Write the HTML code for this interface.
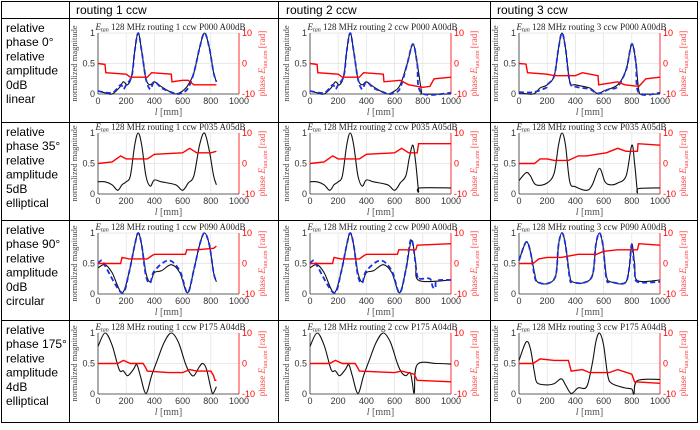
<!DOCTYPE html>
<html><head><meta charset="utf-8"><style>
html,body{margin:0;padding:0;background:#fff;}
svg{display:block;}
.hd{font-family:"Liberation Sans",sans-serif;font-size:12px;fill:#000;}
.tk{font-family:"Liberation Sans",sans-serif;font-size:9px;}
.sf{font-family:"Liberation Serif",serif;}
</style></head><body>
<svg id="root" width="700" height="430" viewBox="0 0 700 430" xmlns="http://www.w3.org/2000/svg">
<g stroke="#000" stroke-width="1" fill="none">
<rect x="1.5" y="1.5" width="696" height="421"/>
<line x1="69.5" y1="1.5" x2="69.5" y2="422.5"/>
<line x1="278.5" y1="1.5" x2="278.5" y2="422.5"/>
<line x1="490.5" y1="1.5" x2="490.5" y2="422.5"/>
<line x1="1.5" y1="18.5" x2="697.5" y2="18.5"/>
<line x1="1.5" y1="122.5" x2="697.5" y2="122.5"/>
<line x1="1.5" y1="220.5" x2="697.5" y2="220.5"/>
<line x1="1.5" y1="320.5" x2="697.5" y2="320.5"/>
</g>
<text class="hd" x="76" y="14" font-size="13">routing 1 ccw</text>
<text class="hd" x="286" y="14" font-size="13">routing 2 ccw</text>
<text class="hd" x="497" y="14" font-size="13">routing 3 ccw</text>
<g id="rowlabels"></g>
<g id="charts"></g>
</svg>
<script>
// ---- data ----
const rowLabels=[["relative","phase 0°","relative","amplitude","0dB","linear"],["relative","phase 35°","relative","amplitude","5dB","elliptical"],["relative","phase 90°","relative","amplitude","0dB","circular"],["relative","phase 175°","relative","amplitude","4dB","elliptical"]];
const titles=["routing 1 ccw P000 A00dB","routing 2 ccw P000 A00dB","routing 3 ccw P000 A00dB","routing 1 ccw P035 A05dB","routing 2 ccw P035 A05dB","routing 3 ccw P035 A05dB","routing 1 ccw P090 A00dB","routing 2 ccw P090 A00dB","routing 3 ccw P090 A00dB","routing 1 ccw P175 A04dB","routing 2 ccw P175 A04dB","routing 3 ccw P175 A04dB"];
const xTicks=[0,200,400,600,800,1000];
const yTicks=[0,0.5,1];
const yTickLabels=["0","0.5","1"];
const pTicks=[-10,0,10];
const pTickLabels=["-10","0","10"];
// magnitude (black) series: [l, value] pairs
const mag=[
[[0,.05],[50,.02],[100,0],[150,.1],[180,.2],[210,.15],[240,.3],[260,.7],[285,1],[310,.7],[340,.25],[370,.15],[400,.2],[450,.12],[500,.05],[550,0],[600,.05],[640,.15],[680,.35],[720,.75],[755,1],[790,.75],[820,.35],[840,.2]],
[[0,.05],[50,.02],[100,0],[150,.1],[180,.2],[210,.15],[240,.3],[260,.7],[285,1],[310,.7],[340,.25],[370,.15],[400,.2],[450,.12],[500,.05],[550,0],[600,.05],[640,.15],[690,.5],[730,.82],[760,.5],[790,.05],[800,0],[1000,0]],
[[0,.02],[100,0],[150,.1],[200,.15],[250,.3],[280,.75],[305,1],[330,.75],[360,.2],[400,.15],[500,.1],[560,0],[600,.05],[700,.15],[760,.4],[800,.82],[830,.5],[850,.05],[880,0],[1000,0]],
[[0,.2],[50,.2],[100,.15],[140,.06],[170,.15],[200,.2],[230,.3],[260,.8],[285,1],[310,.8],[340,.3],[370,.13],[400,.23],[450,.2],[550,.15],[600,.06],[640,.18],[680,.3],[720,.8],[755,1],[790,.7],[820,.3],[840,.15]],
[[0,.2],[50,.2],[100,.15],[140,.06],[170,.15],[200,.2],[230,.3],[260,.8],[285,1],[310,.8],[340,.3],[370,.13],[400,.23],[450,.2],[550,.15],[600,.06],[640,.18],[680,.3],[705,.6],[730,.8],[750,.5],[770,.05],[780,.1],[1000,.1]],
[[0,.22],[50,.35],[80,.3],[120,.15],[200,.18],[250,.35],[280,.8],[305,1],[330,.8],[360,.2],[400,.12],[480,.06],[520,.15],[570,.42],[610,.2],[650,.15],[700,.18],[760,.3],[800,.8],[820,.5],[840,.04],[850,.09],[1000,.1]],
[[0,.43],[50,.48],[100,.35],[170,.02],[220,.35],[260,.8],[285,1],[310,.8],[340,.35],[370,.2],[400,.35],[450,.38],[520,.48],[580,.35],[635,.02],[680,.4],[720,.8],[755,1],[790,.8],[820,.35],[840,.2]],
[[0,.43],[50,.48],[100,.35],[170,.02],[220,.35],[260,.8],[285,1],[310,.8],[340,.35],[370,.2],[400,.35],[450,.38],[520,.48],[580,.35],[635,.02],[680,.4],[720,.88],[750,.5],[775,.22],[1000,.23]],
[[0,.55],[50,.85],[80,.7],[110,.35],[130,.2],[200,.17],[260,.3],[280,.8],[305,1],[330,.8],[360,.3],[380,.2],[450,.18],[520,.3],[545,.8],[570,1],[595,.8],[620,.3],[650,.2],[750,.18],[780,.4],[800,.82],[820,.5],[840,.22],[1000,.23]],
[[0,.78],[50,1],[100,.8],[150,.4],[180,.38],[210,.3],[250,.4],[275,.48],[300,.3],[340,.01],[380,.3],[420,.55],[470,.85],[520,1],[570,.85],[620,.5],[650,.35],[680,.3],[720,.45],[745,.5],[770,.4],[800,.1],[815,.01],[840,.12]],
[[0,.78],[50,1],[100,.8],[150,.4],[180,.38],[210,.3],[250,.4],[275,.48],[300,.3],[340,.01],[380,.3],[420,.55],[470,.85],[520,1],[570,.85],[620,.5],[650,.35],[680,.3],[710,.35],[725,.2],[740,.02],[760,.48],[900,.5],[1000,.49]],
[[0,.55],[50,.85],[80,.75],[110,.35],[130,.18],[200,.15],[250,.17],[300,.25],[330,.15],[370,.01],[420,.1],[480,.12],[520,.5],[545,.85],[570,1],[600,.8],[630,.3],[660,.17],[750,.1],[800,.08],[815,0],[840,.22],[1000,.24]]
];
// simulated magnitude (blue dashed), only for linear & circular rows
const sim=[
[[0,.05],[100,.02],[160,.15],[180,.08],[200,.15],[240,.3],[260,.7],[285,1],[310,.7],[340,.25],[370,.08],[400,.2],[450,.1],[520,.03],[560,0],[600,.02],[640,.1],[680,.35],[720,.75],[755,1],[790,.75],[820,.35],[840,.2]],
[[0,.05],[100,.02],[160,.15],[180,.08],[200,.15],[240,.3],[260,.7],[285,1],[310,.7],[340,.25],[370,.08],[400,.2],[450,.1],[520,.03],[560,0],[600,.02],[640,.1],[690,.5],[730,.82],[760,.5],[790,.02],[1000,.02]],
[[0,.03],[100,.03],[190,.1],[200,.15],[250,.3],[280,.75],[305,1],[330,.75],[360,.2],[400,.12],[500,.08],[560,.01],[640,.08],[700,.12],[760,.4],[800,.82],[830,.5],[850,.02],[1000,.02]],
null,null,null,
[[0,.5],[30,.55],[60,.42],[170,.02],[220,.35],[260,.8],[285,1],[310,.8],[340,.3],[370,.18],[400,.38],[500,.55],[580,.38],[635,.02],[680,.4],[720,.8],[755,1],[790,.8],[820,.35],[840,.2]],
[[0,.5],[30,.55],[60,.42],[170,.02],[220,.35],[260,.8],[285,1],[310,.8],[340,.3],[370,.18],[400,.38],[500,.55],[580,.38],[635,.02],[680,.4],[720,.9],[760,.3],[780,.25],[850,.25],[870,.12],[890,.1],[900,.22],[1000,.23]],
[[0,.55],[50,.85],[80,.7],[110,.3],[130,.2],[200,.17],[260,.3],[280,.8],[305,1],[330,.8],[360,.25],[380,.2],[450,.18],[520,.3],[545,.8],[570,1],[595,.8],[620,.25],[650,.2],[750,.18],[780,.4],[800,.82],[820,.4],[840,.2],[1000,.2]],
null,null,null
];
// phase (red) series, rad
const phase=[
[[0,0],[50,-.3],[55,-3],[200,-3.5],[230,-4.5],[350,-4.5],[380,-3],[520,-3.5],[525,-6],[600,-5.5],[640,-5.5],[680,-7],[840,-7]],
[[0,0],[50,-.3],[55,-3],[200,-3.5],[230,-4.5],[350,-4.5],[380,-3],[520,-3.5],[525,-6],[640,-5.5],[700,-7],[800,-7.8],[850,-7.5],[880,-5],[1000,-4.5]],
[[0,0],[50,-.2],[60,-3],[200,-3.5],[250,-4],[400,-4],[450,-3],[560,-4],[565,-7],[700,-6],[750,-7],[850,-7.5],[900,-5],[1000,-4.5]],
[[0,0],[100,.5],[160,2.5],[200,1.5],[350,1.5],[400,3],[600,3.5],[650,5],[700,3.5],[800,3.5],[840,4]],
[[0,0],[100,.5],[160,2.5],[200,1.5],[350,1.5],[400,3],[600,3.5],[650,5],[700,3.5],[760,3.5],[770,6.5],[1000,6.5]],
[[0,0],[110,0],[150,1.5],[200,1.5],[250,1],[350,1],[420,2.5],[480,2.5],[550,3],[620,3.5],[700,5],[760,4],[840,4],[845,6.5],[1000,6]],
[[0,0],[160,0],[170,2],[220,1.5],[350,1.5],[380,2.5],[400,3],[620,3],[630,4.5],[700,4.5],[820,5],[840,5.7]],
[[0,0],[160,0],[170,2],[220,1.5],[350,1.5],[380,2.5],[400,3],[620,3],[630,4.5],[750,4.5],[760,6],[1000,6.5]],
[[0,0],[100,0],[140,1.5],[200,2],[300,2],[420,3],[550,3],[600,4],[700,4.5],[840,4.5],[850,6.5],[1000,6]],
[[0,0],[140,0],[180,1],[230,0],[320,0],[340,-1.5],[350,-2.5],[500,-3],[600,-3],[650,-2],[700,-2.5],[800,-2.5],[820,-4],[830,-5.5],[840,-5.5]],
[[0,0],[140,0],[180,1],[230,0],[320,0],[340,-1.5],[350,-2.5],[600,-3],[650,-2.5],[740,-3.5],[760,-5.5],[1000,-6]],
[[0,0],[100,0],[150,1.5],[250,1],[350,1],[370,-2.5],[450,-2],[500,-3],[640,-3],[700,-2],[800,-3.5],[820,-6],[1000,-6.5]]
];
// ---- layout ----
const colX0=[98,310,519], plotW=141;
const rowY0=[33,133,233,333], rowTop=[18,122,220,320], plotH=61;
const NS="http://www.w3.org/2000/svg";
function mk(tag,attrs,parent,txt){const e=document.createElementNS(NS,tag);for(const k in attrs)e.setAttribute(k,attrs[k]);if(txt!==undefined)e.textContent=txt;parent.appendChild(e);return e;}
function smooth(P){
  let d='M'+P[0][0].toFixed(1)+','+P[0][1].toFixed(1);
  for(let i=0;i<P.length-1;i++){
    const p0=P[i-1]||P[i],p1=P[i],p2=P[i+1],p3=P[i+2]||P[i+1];
    const t=1/6;
    const c1=[p1[0]+(p2[0]-p0[0])*t,p1[1]+(p2[1]-p0[1])*t];
    const c2=[p2[0]-(p3[0]-p1[0])*t,p2[1]-(p3[1]-p1[1])*t];
    d+=' C'+c1[0].toFixed(1)+','+c1[1].toFixed(1)+' '+c2[0].toFixed(1)+','+c2[1].toFixed(1)+' '+p2[0].toFixed(1)+','+p2[1].toFixed(1);
  }
  return d;
}
const rl=document.getElementById('rowlabels');
rowLabels.forEach((lines,r)=>{
  const t=mk('text',{class:'hd',x:6},rl);
  
  
  lines.forEach((s,i)=>{mk('tspan',{x:6,y:rowTop[r]+14+i*14.2},t,s);});
});
const ch=document.getElementById('charts');
for(let i=0;i<12;i++){
  const r=Math.floor(i/3),c=i%3;
  const x0=colX0[c],y0=rowY0[r];
  const sx=v=>x0+v/1000*plotW;
  const sy=v=>y0+plotH-v*plotH;
  const sp=v=>y0+plotH/2-v/10*(plotH/2);
  const g=mk('g',{},ch);
  
  
  const grid=mk('g',{stroke:'#e2e2e2','stroke-width':0.7},g);
  
  
  xTicks.forEach(v=>mk('line',{x1:sx(v),x2:sx(v),y1:y0,y2:y0+plotH},grid));
  yTicks.forEach(v=>mk('line',{x1:x0,x2:x0+plotW,y1:sy(v),y2:sy(v)},grid));
  const ax=mk('g',{},g);
  
  
  mk('line',{x1:x0,x2:x0,y1:y0,y2:y0+plotH,stroke:'#333','stroke-width':0.8},ax);
  mk('line',{x1:x0,x2:x0+plotW,y1:y0+plotH,y2:y0+plotH,stroke:'#333','stroke-width':0.8},ax);
  mk('line',{x1:x0+plotW,x2:x0+plotW,y1:y0,y2:y0+plotH,stroke:'#f00','stroke-width':0.8},ax);
  xTicks.forEach(v=>{const t=mk('text',{class:'tk',x:sx(v),y:y0+plotH+10,'text-anchor':'middle',fill:'#333'},ax,String(v));});
  yTicks.forEach((v,k)=>{const t=mk('text',{class:'tk',x:x0-3,y:sy(v)+3,'text-anchor':'end',fill:'#333'},ax,yTickLabels[k]);});
  pTicks.forEach((v,k)=>{const t=mk('text',{class:'tk',x:x0+plotW+3,y:sp(v)+3,fill:'#f00'},ax,pTickLabels[k]);});
  const xl=mk('text',{class:'sf',x:x0+plotW/2,y:y0+plotH+21,'text-anchor':'middle','font-size':'10',fill:'#555'},g);
  
  
  mk('tspan',{'font-style':'italic'},xl,'l');mk('tspan',{},xl,' [mm]');
  const yl=mk('text',{class:'sf','font-size':'8.5',fill:'#444','text-anchor':'middle',transform:`translate(${x0-21},${y0+plotH/2}) rotate(-90)`},g,'normalized magnitude');
  
  
  const pl=mk('text',{class:'sf','font-size':'9',fill:'#f44','text-anchor':'middle',transform:`translate(${x0+plotW+26},${y0+plotH/2}) rotate(-90)`},g);
  
  
  mk('tspan',{},pl,'phase ');mk('tspan',{'font-style':'italic'},pl,'E');mk('tspan',{'font-size':'6',dy:'2'},pl,'tan,sim');mk('tspan',{dy:'-2'},pl,' [rad]');
  const tt=mk('text',{class:'sf','font-size':'9',fill:'#222',x:x0+plotW/2+2,y:y0-3,'text-anchor':'middle'},g);
  
  
  mk('tspan',{'font-style':'italic'},tt,'E');mk('tspan',{'font-size':'6',dy:'1.5','font-style':'italic'},tt,'tan');mk('tspan',{dy:'-1.5'},tt,' 128 MHz '+titles[i]);
  const toPx=a=>a.map(p=>[sx(p[0]),sy(p[1])]);
  const bl=mk('path',{d:smooth(toPx(mag[i])),fill:'none',stroke:'#111','stroke-width':1.1},g);
  
  
  if(sim[i]){
    const sl=mk('path',{d:smooth(toPx(sim[i])),fill:'none',stroke:'#1a2fe0','stroke-width':1.8,'stroke-dasharray':'5 3'},g);
    
    
  }
  const ph=mk('polyline',{points:phase[i].map(p=>sx(p[0]).toFixed(1)+','+sp(p[1]).toFixed(1)).join(' '),fill:'none',stroke:'#f00','stroke-width':1.4},g);
  
  
}
</script>
</body></html>
